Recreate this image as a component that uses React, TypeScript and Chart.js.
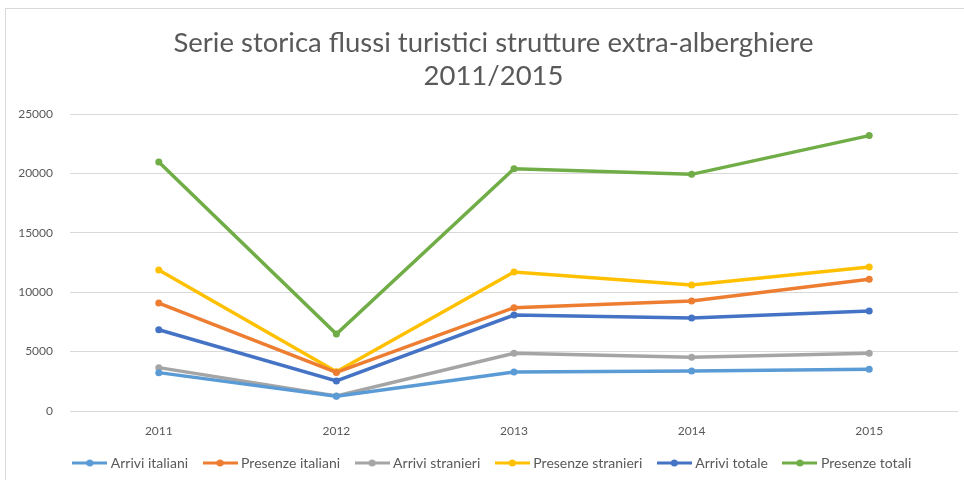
import React, { useEffect, useRef } from "react";
import { Chart, registerables } from "chart.js";

Chart.register(...registerables);

const years = ["2011", "2012", "2013", "2014", "2015"];
const arriviItaliani = [3230, 1250, 3280, 3370, 3510];
const presenzeItaliani = [9090, 3250, 8700, 9260, 11090];
const arriviStranieri = [3650, 1260, 4860, 4520, 4860];
const presenzeStranieri = [11870, 3310, 11700, 10600, 12120];
const arriviTotale = [6840, 2530, 8080, 7830, 8420];
const presenzeTotali = [20960, 6480, 20400, 19920, 23180];

const seriesNames = [
  "Arrivi italiani",
  "Presenze italiani",
  "Arrivi stranieri",
  "Presenze stranieri",
  "Arrivi totale",
  "Presenze totali",
];
const seriesColors = ["#5B9BD5", "#ED7D31", "#A5A5A5", "#FFC000", "#4472C4", "#70AD47"];
const titleLines = ["Serie storica flussi turistici strutture extra-alberghiere", "2011/2015"];

function legendMarker(color: string) {
  const c = document.createElement("canvas");
  c.width = 35;
  c.height = 8;
  const ctx = c.getContext("2d")!;
  ctx.strokeStyle = color;
  ctx.lineWidth = 3;
  ctx.beginPath();
  ctx.moveTo(0, 4);
  ctx.lineTo(35, 4);
  ctx.stroke();
  ctx.fillStyle = color;
  ctx.beginPath();
  ctx.arc(17.5, 4, 3.5, 0, Math.PI * 2);
  ctx.fill();
  return c;
}

export default function App() {
  const ref = useRef<HTMLCanvasElement>(null);
  useEffect(() => {
    document.body.style.margin = "0";
    document.body.style.overflow = "hidden";
    const data = [arriviItaliani, presenzeItaliani, arriviStranieri, presenzeStranieri, arriviTotale, presenzeTotali];
    const chart = new Chart(ref.current!, {
      type: "line",
      data: {
        labels: years,
        datasets: data.map((d, i) => ({
          label: seriesNames[i],
          data: d,
          borderColor: seriesColors[i],
          backgroundColor: seriesColors[i],
          borderWidth: 3.5,
          pointRadius: 3.5,
          pointBorderWidth: 0,
          pointStyle: "circle",
          tension: 0,
        })),
      },
      options: {
        animation: false,
        responsive: false,
        layout: { padding: { left: 0, right: 0, top: 18, bottom: 7 } },
        plugins: {
          title: {
            display: true,
            text: titleLines,
            color: "#595959",
            font: { family: "Lato", size: 27.5, weight: "normal" },
            padding: { top: 0, bottom: 21 },
            lineHeight: 1.2,
          },
          legend: {
            position: "bottom",
            labels: {
              usePointStyle: true,
              pointStyleWidth: 28,
              boxHeight: 8,
              color: "#595959",
              font: { family: "Lato", size: 14 },
              padding: 18,
              generateLabels: (chart: any) =>
                chart.data.datasets.map((ds: any, i: number) => ({
                  text: ds.label,
                  fillStyle: seriesColors[i],
                  strokeStyle: seriesColors[i],
                  lineWidth: 0,
                  pointStyle: legendMarker(seriesColors[i]),
                  hidden: false,
                  datasetIndex: i,
                  fontColor: "#595959",
                })),
            },
          },
          tooltip: { enabled: false },
        },
        scales: {
          x: {
            offset: true,
            afterFit: (s: any) => {
              s.height = 27;
            },
            grid: { display: false, drawTicks: false },
            border: { display: false },
            ticks: { color: "#595959", font: { family: "Lato", size: 12 }, padding: 13 },
          },
          y: {
            min: 0,
            max: 25000,
            afterFit: (s: any) => {
              s.width = 64;
            },
            grid: { color: "#D9D9D9", drawTicks: false },
            border: { display: false },
            ticks: {
              stepSize: 5000,
              color: "#595959",
              font: { family: "Lato", size: 12 },
              padding: 17,
              callback: (v: any) => String(v),
            },
          },
          yRight: {
            position: "right",
            display: true,
            afterFit: (s: any) => {
              s.width = 23;
            },
            grid: { display: false, drawTicks: false },
            border: { display: false },
            ticks: { display: false },
          },
        },
      },
    } as any);
    return () => chart.destroy();
  }, []);
  return (
    <div
      style={{
        position: "absolute",
        left: 5,
        top: 8,
        width: 976,
        height: 480,
        borderLeft: "1px solid #D9D9D9",
        borderTop: "1px solid #D9D9D9",
        background: "#fff",
        boxSizing: "border-box",
      }}
    >
      <canvas ref={ref} width={975} height={478} style={{ display: "block" }} />
    </div>
  );
}
